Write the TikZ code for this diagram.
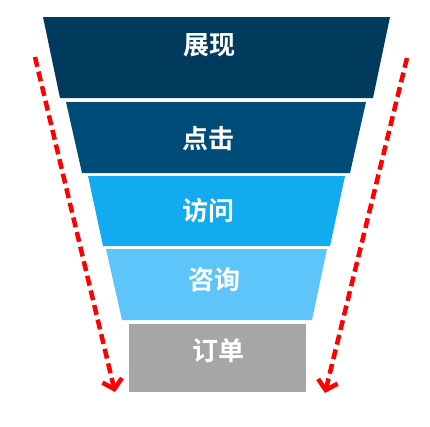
\documentclass[tikz,border=0pt]{standalone}
\usepackage{fontspec}
\newfontfamily\cjk{Noto Sans CJK SC Bold}
\usetikzlibrary{arrows.meta}
\definecolor{c1}{HTML}{003A5C}
\definecolor{c2}{HTML}{004C78}
\definecolor{c3}{HTML}{12ABF0}
\definecolor{c4}{HTML}{5EC5FA}
\definecolor{c5}{HTML}{A6A6A6}
\definecolor{arr}{HTML}{FF0000}
\tikzset{
  layer/.style={draw=none},
  lbl/.style={text=white,font=\cjk\fontsize{26pt}{26pt}\selectfont,inner sep=0pt},
  flow/.style={draw=arr,line width=4.5pt,dash pattern=on 10pt off 5pt,
    -{Straight Barb[length=9pt,width=20pt,line width=4.5pt]}}
}
\begin{document}
\begin{tikzpicture}[x=1pt,y=-1pt]
\useasboundingbox (0,0) rectangle (430,426);
\fill[layer,c1] (43,17) -- (390,17) -- (373,98) -- (60,98) -- cycle;
\fill[layer,c2] (66,102) -- (366,102) -- (350,173) -- (82,173) -- cycle;
\fill[layer,c3] (88,176) -- (345,176) -- (330,246) -- (103,246) -- cycle;
\fill[layer,c4] (106,249) -- (327,249) -- (312,320) -- (122,320) -- cycle;
\fill[layer,c5] (129,324) rectangle (306,392);
\node[lbl] (t1) at (209,45) {展现};
\node[lbl] (t2) at (208,139) {点击};
\node[lbl] (t3) at (208,211) {访问};
\node[lbl] (t4) at (214,280) {咨询};
\node[lbl] (t5) at (218,351) {订单};
\coordinate (ls) at (35,57);
\coordinate (le) at (115,392);
\coordinate (rs) at (407,58);
\coordinate (re) at (325,393);
\draw[flow] (ls) -- (le);
\draw[flow] (rs) -- (re);
\end{tikzpicture}
\end{document}
